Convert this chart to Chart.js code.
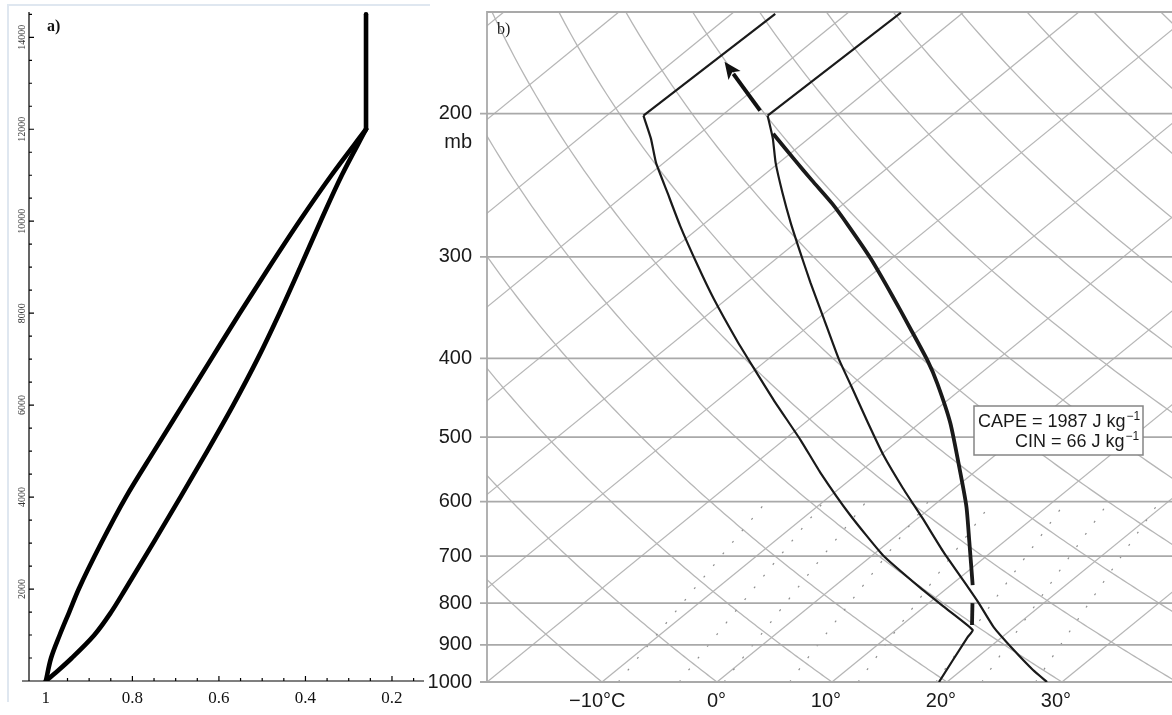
<!DOCTYPE html>
<html lang="en">
<head>
<meta charset="UTF-8">
<title>Relative humidity profile and skew-T sounding</title>
<script src="https://cdn.jsdelivr.net/npm/chart.js"></script>
<style>
  html, body { margin: 0; padding: 0; background: #fff; overflow: hidden; }
  body { width: 1172px; height: 715px; position: relative; }
  #rhChart { position: absolute; left: 0; top: 0; }
  #skewtChart { position: absolute; left: 420px; top: 0; }
</style>
</head>
<body>
<canvas id="rhChart" width="440" height="715"></canvas>
<canvas id="skewtChart" width="780" height="715"></canvas>

<script>
// ---------- panel a: relative humidity with height ----------
const rhLeftHeights = [0, 500, 1000, 1500, 2000, 3000, 4000, 5000, 6000, 7000, 8000, 9000, 10000, 11000, 12000];
const rhLeft = [1.0, 0.988, 0.968, 0.946, 0.924, 0.872, 0.815, 0.750, 0.684, 0.618, 0.552, 0.484, 0.414, 0.340, 0.26];
const rhRightHeights = [0, 250, 500, 1000, 1500, 2000, 3000, 4000, 5000, 6000, 7000, 8000, 9000, 10000, 11000, 12000];
const rhRight = [1.0, 0.969, 0.940, 0.888, 0.849, 0.816, 0.752, 0.689, 0.627, 0.567, 0.511, 0.460, 0.412, 0.365, 0.316, 0.26];
const capHeights = [12000, 14500];
const capValue = 0.26;

const rhTicks = [1, 0.8, 0.6, 0.4, 0.2];
const rhTickLabels = ['1', '0.8', '0.6', '0.4', '0.2'];
const heightTicks = [2000, 4000, 6000, 8000, 10000, 12000, 14000];
const heightTickLabels = ['2000', '4000', '6000', '8000', '10000', '12000', '14000'];

// ---------- panel b: skew-T log-p sounding ----------
const pressureTicks = [200, 300, 400, 500, 600, 700, 800, 900, 1000];
const tempTicks = [-10, 0, 10, 20, 30];
const tempTickLabels = ['\u221210\u00b0C', '0\u00b0', '10\u00b0', '20\u00b0', '30\u00b0'];

// environmental temperature (°C) against pressure (mb); first point is the top of the stratosphere leg
const tempP = [150.3, 201.2, 214.7, 229.8, 250.2, 272.3, 293.1, 322.6, 357.2, 400.0, 431.7, 479.3, 526.3, 577.7, 628.9, 692.3, 764.4, 799.8, 856.0, 913.5, 966.6, 1000];
const tempT = [-55.4, -56.0, -53.1, -50.3, -46.5, -42.6, -39.1, -34.5, -29.5, -23.95, -20.0, -14.6, -9.7, -4.5, 0.4, 5.85, 11.7, 14.35, 18.2, 22.4, 26.2, 28.7];
// dewpoint
const dewP = [150.8, 201.2, 214.7, 229.8, 250.2, 274.6, 307.5, 337.6, 380.2, 410.3, 450.4, 504.4, 552.2, 623.6, 698.3, 766.6, 811.2, 863.2, 880.5, 1000];
const dewT = [-66.2, -66.8, -63.7, -60.7, -56.5, -51.9, -46.1, -41.2, -34.7, -30.4, -25.1, -18.5, -13.4, -6.2, 0.9, 7.7, 12.0, 16.7, 17.0, 19.3];
// lifted parcel, broken where it crosses the temperature curve
const parcelP = [211.7, 228.5, 241.8, 258.1, 275.4, 301.5, 334.7, 367.5, 402.3, 429.3, 480.7, 553.7, 609.6, 669.2, 760.1];
const parcelT = [-53.6, -48.8, -45.2, -41.0, -37.1, -31.8, -26.0, -20.9, -16.0, -12.7, -7.3, -1.1, 3.05, 6.8, 11.9];
const parcelLowP = [799.8, 851.1];
const parcelLowT = [13.8, 16.1];
// arrow near the tropopause (tail, tip)
const arrowP = [198.3, 172.7];
const arrowT = [-57.2, -65.5];

const capeValue = 1987;
const cinValue = 66;

// background lines of the diagram
const isothermTemps = [];
for (let t = -100; t <= 40; t += 10) isothermTemps.push(t);
const adiabatTemps = [];          // potential temperature, as °C at 1000 mb
for (let t = -20; t <= 150; t += 10) adiabatTemps.push(t);
const mixingRatios = [2, 3, 4, 6, 9, 14, 18, 24];   // g/kg

const P_TOP = 150, P_BOTTOM = 1000;
const SKEW = 37.67;               // horizontal shift in °C per unit ln(1000/p)
const skewX = (t, p) => t + SKEW * Math.log(1000 / p);
const profile = (ts, ps) => ts.map((t, i) => ({ x: skewX(t, ps[i]), y: ps[i] }));

function dewpointFromMixing(w, p) {
  const e = w * p / (622 + w);
  const g = Math.log(e / 6.112);
  return 243.5 * g / (17.67 - g);
}

const SANS = '"Liberation Sans", Arial, Helvetica, sans-serif';
const SERIF = '"Liberation Serif", "Times New Roman", serif';

// ---------- panel a axes (inward ticks, rotated height labels) ----------
const rhAxes = {
  id: 'rhAxes',
  afterDraw(chart) {
    const { ctx, chartArea: a, scales: { x, y } } = chart;
    ctx.save();
    // faint panel edge, top and left
    ctx.strokeStyle = '#dfe7f0';
    ctx.lineWidth = 2;
    ctx.beginPath();
    ctx.moveTo(8, 702);
    ctx.lineTo(8, 5);
    ctx.lineTo(430, 5);
    ctx.stroke();

    ctx.strokeStyle = '#000';
    ctx.lineWidth = 1.2;
    ctx.beginPath();
    ctx.moveTo(a.left - 7, a.bottom);
    ctx.lineTo(a.right, a.bottom);
    ctx.moveTo(a.left, a.bottom);
    ctx.lineTo(a.left, a.top);
    ctx.stroke();

    ctx.beginPath();
    for (let i = 0; i <= 17; i++) {
      const v = 1 - i * 0.05;
      const px = x.getPixelForValue(v);
      const len = i % 4 === 0 ? 5 : 3;
      ctx.moveTo(px, a.bottom);
      ctx.lineTo(px, a.bottom - len);
    }
    for (let z = 500; z <= 14500; z += 500) {
      const py = y.getPixelForValue(z);
      const len = z % 2000 === 0 ? 5 : 3;
      ctx.moveTo(a.left, py);
      ctx.lineTo(a.left + len, py);
    }
    ctx.stroke();

    ctx.fillStyle = '#333';
    ctx.font = '10px ' + SERIF;
    ctx.textAlign = 'center';
    ctx.textBaseline = 'middle';
    heightTicks.forEach((z, i) => {
      ctx.save();
      ctx.translate(a.left - 7, y.getPixelForValue(z));
      ctx.rotate(-Math.PI / 2);
      ctx.fillText(heightTickLabels[i], 0, 0);
      ctx.restore();
    });

    ctx.fillStyle = '#111';
    ctx.font = 'bold 16px ' + SERIF;
    ctx.textAlign = 'left';
    ctx.textBaseline = 'alphabetic';
    ctx.fillText('a)', 47, 31);
    ctx.restore();
  }
};

const rhLine = { borderColor: '#000', borderWidth: 4.6, pointRadius: 0,
                 cubicInterpolationMode: 'monotone',
                 borderCapStyle: 'round', borderJoinStyle: 'round' };

new Chart(document.getElementById('rhChart'), {
  type: 'line',
  data: {
    datasets: [
      { ...rhLine, data: rhLeftHeights.map((z, i) => ({ x: rhLeft[i], y: z })) },
      { ...rhLine, data: rhRightHeights.map((z, i) => ({ x: rhRight[i], y: z })) },
      { ...rhLine, cubicInterpolationMode: 'default', tension: 0,
        data: capHeights.map(z => ({ x: capValue, y: z })) }
    ]
  },
  options: {
    indexAxis: 'y',
    responsive: false,
    animation: false,
    events: [],
    layout: { padding: { top: 12, right: 16, left: 0, bottom: 0 } },
    plugins: { legend: { display: false }, tooltip: { enabled: false } },
    scales: {
      x: {
        type: 'linear', position: 'bottom', reverse: true, min: 0.126, max: 1.039,
        afterBuildTicks: s => { s.ticks = rhTicks.map(v => ({ value: v })); },
        afterFit: s => { s.height = 34; s.paddingLeft = 0; s.paddingRight = 0; },
        grid: { display: false, drawTicks: false },
        border: { display: false },
        ticks: { padding: 7, color: '#111', autoSkip: false, maxRotation: 0,
                 font: { family: SERIF, size: 17 },
                 callback: (v, i) => rhTickLabels[i] }
      },
      y: {
        type: 'linear', position: 'left', min: 0, max: 14550,
        afterFit: s => { s.width = 29; s.paddingTop = 0; s.paddingBottom = 0; },
        grid: { display: false, drawTicks: false },
        border: { display: false },
        ticks: { display: false }
      }
    }
  },
  plugins: [rhAxes]
});

// ---------- panel b: diagram background and annotations ----------
const skewtBackground = {
  id: 'skewtBackground',
  beforeDatasetsDraw(chart) {
    const { ctx, chartArea: a } = chart;
    const xs = chart.scales.x, ys = chart.scales.y;
    const px = (t, p) => xs.getPixelForValue(skewX(t, p));
    const py = p => ys.getPixelForValue(p);

    ctx.save();
    ctx.beginPath();
    ctx.rect(a.left, a.top, a.right - a.left, a.bottom - a.top);
    ctx.clip();

    // isotherms
    ctx.strokeStyle = '#b6b6b6';
    ctx.lineWidth = 1.3;
    isothermTemps.forEach(t => {
      ctx.beginPath();
      ctx.moveTo(px(t, P_BOTTOM), py(P_BOTTOM));
      ctx.lineTo(px(t, P_TOP), py(P_TOP));
      ctx.stroke();
    });

    // dry adiabats
    adiabatTemps.forEach(t0 => {
      const theta = t0 + 273.15;
      ctx.beginPath();
      for (let p = P_BOTTOM; p >= P_TOP; p -= 5) {
        const t = theta * Math.pow(p / 1000, 0.2857) - 273.15;
        if (p === P_BOTTOM) ctx.moveTo(px(t, p), py(p));
        else ctx.lineTo(px(t, p), py(p));
      }
      ctx.stroke();
    });

    // saturation mixing ratio, dotted, below 600 mb
    ctx.setLineDash([2, 13]);
    ctx.strokeStyle = '#8e8e8e';
    ctx.lineWidth = 1.2;
    mixingRatios.forEach(w => {
      ctx.beginPath();
      for (let p = 1000; p >= 600; p -= 25) {
        const t = dewpointFromMixing(w, p);
        if (p === 1000) ctx.moveTo(px(t, p), py(p));
        else ctx.lineTo(px(t, p), py(p));
      }
      ctx.stroke();
    });
    ctx.setLineDash([]);
    ctx.restore();

    // isobars, frame and pressure ticks
    ctx.save();
    ctx.strokeStyle = '#a9a9a9';
    ctx.lineWidth = 1.8;
    ctx.beginPath();
    pressureTicks.forEach(p => {
      ctx.moveTo(a.left - 7, py(p));
      ctx.lineTo(a.right, py(p));
    });
    ctx.moveTo(a.left, a.bottom);
    ctx.lineTo(a.left, a.top);
    ctx.lineTo(a.right, a.top);
    ctx.stroke();
    ctx.restore();
  },
  afterDatasetsDraw(chart) {
    const { ctx, chartArea: a } = chart;
    const xs = chart.scales.x, ys = chart.scales.y;
    ctx.save();

    // arrow
    const x0 = xs.getPixelForValue(skewX(arrowT[0], arrowP[0])), y0 = ys.getPixelForValue(arrowP[0]);
    const x1 = xs.getPixelForValue(skewX(arrowT[1], arrowP[1])), y1 = ys.getPixelForValue(arrowP[1]);
    const ang = Math.atan2(y1 - y0, x1 - x0);
    const headLen = 17, headW = 7.5;
    const bx = x1 - headLen * Math.cos(ang), by = y1 - headLen * Math.sin(ang);
    ctx.strokeStyle = '#111';
    ctx.fillStyle = '#111';
    ctx.lineWidth = 4;
    ctx.beginPath();
    ctx.moveTo(x0, y0);
    ctx.lineTo(bx + 2 * Math.cos(ang), by + 2 * Math.sin(ang));
    ctx.stroke();
    ctx.beginPath();
    ctx.moveTo(x1, y1);
    ctx.lineTo(bx + headW * Math.sin(ang), by - headW * Math.cos(ang));
    ctx.lineTo(bx + 4 * Math.cos(ang), by + 4 * Math.sin(ang));
    ctx.lineTo(bx - headW * Math.sin(ang), by + headW * Math.cos(ang));
    ctx.closePath();
    ctx.fill();

    // temperature labels: the number ends on its isotherm, units trail after it
    ctx.fillStyle = '#1a1a1a';
    ctx.font = '20px ' + SANS;
    ctx.textAlign = 'left';
    ctx.textBaseline = 'middle';
    tempTicks.forEach((v, i) => {
      const label = tempTickLabels[i];
      const num = label.slice(0, label.indexOf('\u00b0'));
      const start = xs.getPixelForValue(v) + 1 - ctx.measureText(num).width;
      ctx.fillText(label, start, a.bottom + 19);
    });

    // pressure unit under the 200 label
    ctx.textAlign = 'right';
    ctx.fillText('mb', a.left - 15, ys.getPixelForValue(200) + 29);

    // panel letter
    ctx.font = '16px ' + SERIF;
    ctx.textAlign = 'left';
    ctx.textBaseline = 'alphabetic';
    ctx.fillText('b)', a.left + 10, 34);

    // CAPE / CIN box
    const bxL = a.left + 487, bxT = 406;
    ctx.fillStyle = '#fff';
    ctx.fillRect(bxL, bxT, 169, 49);
    ctx.strokeStyle = '#858585';
    ctx.lineWidth = 1.5;
    ctx.strokeRect(bxL, bxT, 169, 49);

    const withUnit = (text, xLeft, base) => {
      ctx.fillStyle = '#1a1a1a';
      ctx.font = '18px ' + SANS;
      ctx.fillText(text, xLeft, base);
      const w = ctx.measureText(text).width;
      ctx.font = '12px ' + SANS;
      ctx.fillText('\u22121', xLeft + w + 1, base - 7);
    };
    withUnit('CAPE = ' + capeValue + ' J kg', bxL + 4, 427);
    withUnit('CIN = ' + cinValue + ' J kg', bxL + 41, 447);
    ctx.restore();
  }
};

const thin = { borderColor: '#1a1a1a', borderWidth: 2.2, pointRadius: 0, tension: 0.15,
               borderJoinStyle: 'miter', borderCapStyle: 'butt' };
const thick = { ...thin, borderWidth: 3.8, tension: 0.2 };

new Chart(document.getElementById('skewtChart'), {
  type: 'line',
  data: {
    datasets: [
      // stratosphere legs are straight, so the corner at 200 mb stays sharp
      { ...thin, tension: 0, data: profile(tempT.slice(0, 2), tempP.slice(0, 2)) },
      { ...thin, data: profile(tempT.slice(1), tempP.slice(1)) },
      { ...thin, tension: 0, data: profile(dewT.slice(0, 2), dewP.slice(0, 2)) },
      { ...thin, data: profile(dewT.slice(1), dewP.slice(1)) },
      { ...thick, data: profile(parcelT, parcelP) },
      { ...thick, tension: 0, data: profile(parcelLowT, parcelLowP) }
    ]
  },
  options: {
    responsive: false,
    animation: false,
    events: [],
    layout: { padding: { top: 12, right: 23, left: 0, bottom: 0 } },
    plugins: { legend: { display: false }, tooltip: { enabled: false } },
    scales: {
      x: {
        type: 'linear', min: -20, max: 40,
        afterBuildTicks: s => { s.ticks = tempTicks.map(v => ({ value: v })); },
        afterFit: s => { s.height = 33; s.paddingLeft = 0; s.paddingRight = 0; },
        grid: { display: false, drawTicks: false },
        border: { display: false },
        ticks: { display: false }
      },
      y: {
        type: 'logarithmic', reverse: true, min: P_TOP, max: P_BOTTOM,
        afterBuildTicks: s => { s.ticks = pressureTicks.map(v => ({ value: v })); },
        afterFit: s => { s.width = 67; s.paddingTop = 0; s.paddingBottom = 0; },
        grid: { display: false, drawTicks: false },
        border: { display: false },
        ticks: { padding: 15, color: '#1a1a1a', autoSkip: false,
                 font: { family: SANS, size: 20 },
                 callback: v => String(v) }
      }
    }
  },
  plugins: [skewtBackground]
});
</script>
</body>
</html>
